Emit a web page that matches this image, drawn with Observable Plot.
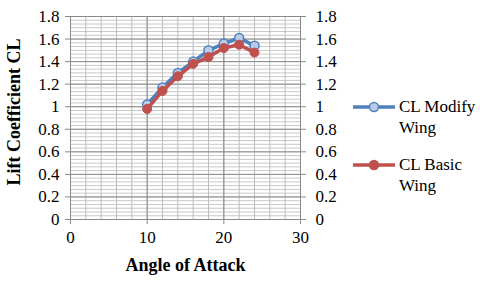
<!DOCTYPE html>
<html><head><meta charset="utf-8">
<script src="https://cdn.jsdelivr.net/npm/d3@7"></script>
<script src="https://cdn.jsdelivr.net/npm/@observablehq/plot@0.6"></script>
<style>
body{margin:0;background:#fff;}
#wrap{position:relative;width:480px;height:281px;font-family:"Liberation Serif","Times New Roman",serif;}
#wrap svg text{font-family:"Liberation Serif","Times New Roman",serif;}
.leg{position:absolute;left:352px;font-size:17px;line-height:21px;color:#000;display:flex;align-items:flex-start;}
.leg svg{flex:none;}
.leg span{margin-left:3px;}
</style></head><body><div id="wrap"></div>
<script>
const angles = [10, 12, 14, 16, 18, 20, 22, 24];
const clModify = [1.02, 1.17, 1.30, 1.40, 1.50, 1.56, 1.61, 1.54];
const clBasic = [0.98, 1.14, 1.27, 1.38, 1.44, 1.52, 1.55, 1.48];
const seriesNames = ["CL Modify", "CL Basic"];
const seriesColors = ["#4f81bd", "#c0504d"];
const xTicks = [0, 10, 20, 30];
const yTicks = [0, 0.2, 0.4, 0.6, 0.8, 1, 1.2, 1.4, 1.6, 1.8];
const xTitle = "Angle of Attack";
const yTitle = "Lift Coefficient CL";

const serif = "'Liberation Serif','Times New Roman',serif";
const minorX = d3.range(0, 31, 2);
const minorY = d3.range(0, 1.8001, 0.2 / 6);
const modifyData = angles.map((a, i) => ({a, v: clModify[i]}));
const basicData = angles.map((a, i) => ({a, v: clBasic[i]}));
const fmt = d => String(+d.toFixed(1));

const chart = Plot.plot({
  width: 480, height: 281,
  marginLeft: 70, marginRight: 180, marginTop: 16, marginBottom: 62,
  style: {fontFamily: serif, fontSize: "16px", background: "#fff", color: "#000"},
  x: {domain: [0, 30]},
  y: {domain: [0, 1.8]},
  marks: [
    Plot.ruleY(minorY, {stroke: "#c8c8c8", strokeWidth: 1}),
    Plot.ruleX(minorX, {stroke: "#bcbcbc", strokeWidth: 1}),
    Plot.ruleY(yTicks, {stroke: "#8a8a8a", strokeWidth: 1}),
    Plot.ruleX(xTicks, {stroke: "#8a8a8a", strokeWidth: 1}),
    Plot.axisY({anchor: "left", ticks: yTicks, tickFormat: fmt, tickSize: 5, tickPadding: 6, stroke: "#8a8a8a", fill: "#000", label: null, fontSize: 17, fontFamily: serif}),
    Plot.axisY({anchor: "right", ticks: yTicks, tickFormat: fmt, tickSize: 5, tickPadding: 10, stroke: "#8a8a8a", fill: "#000", label: null, fontSize: 17, fontFamily: serif}),
    Plot.axisX({anchor: "bottom", ticks: xTicks, tickSize: 5, tickPadding: 6, stroke: "#8a8a8a", fill: "#000", label: null, fontSize: 17, fontFamily: serif}),
    Plot.text([xTitle], {frameAnchor: "bottom", dy: 51, fontWeight: "bold", fontSize: 18, fill: "#000", fontFamily: serif}),
    Plot.text([yTitle], {frameAnchor: "left", rotate: -90, dx: -56, dy: -6, textAnchor: "middle", fontWeight: "bold", fontSize: 18, fill: "#000", fontFamily: serif}),
    Plot.line(modifyData, {x: "a", y: "v", stroke: seriesColors[0], strokeWidth: 3.5}),
    Plot.dot(modifyData, {x: "a", y: "v", r: 4.5, fill: "#b9cde8", stroke: seriesColors[0], strokeWidth: 1.5}),
    Plot.line(basicData, {x: "a", y: "v", stroke: seriesColors[1], strokeWidth: 3.5}),
    Plot.dot(basicData, {x: "a", y: "v", r: 4.5, fill: seriesColors[1], stroke: seriesColors[1], strokeWidth: 1})
  ]
});
const wrap = document.getElementById("wrap");
wrap.appendChild(chart);

const legTops = [96, 154];
seriesNames.forEach((name, i) => {
  const d = document.createElement("div");
  d.className = "leg";
  d.style.top = legTops[i] + "px";
  const fill = i === 0 ? "#b9cde8" : seriesColors[i];
  d.innerHTML = `<svg width="44" height="21"><line x1="1" x2="43" y1="11" y2="11" stroke="${seriesColors[i]}" stroke-width="3.5"/><circle cx="22" cy="11" r="4.5" fill="${fill}" stroke="${seriesColors[i]}" stroke-width="1.5"/></svg><span>${name}<br>Wing</span>`;
  wrap.appendChild(d);
});
</script></body></html>
